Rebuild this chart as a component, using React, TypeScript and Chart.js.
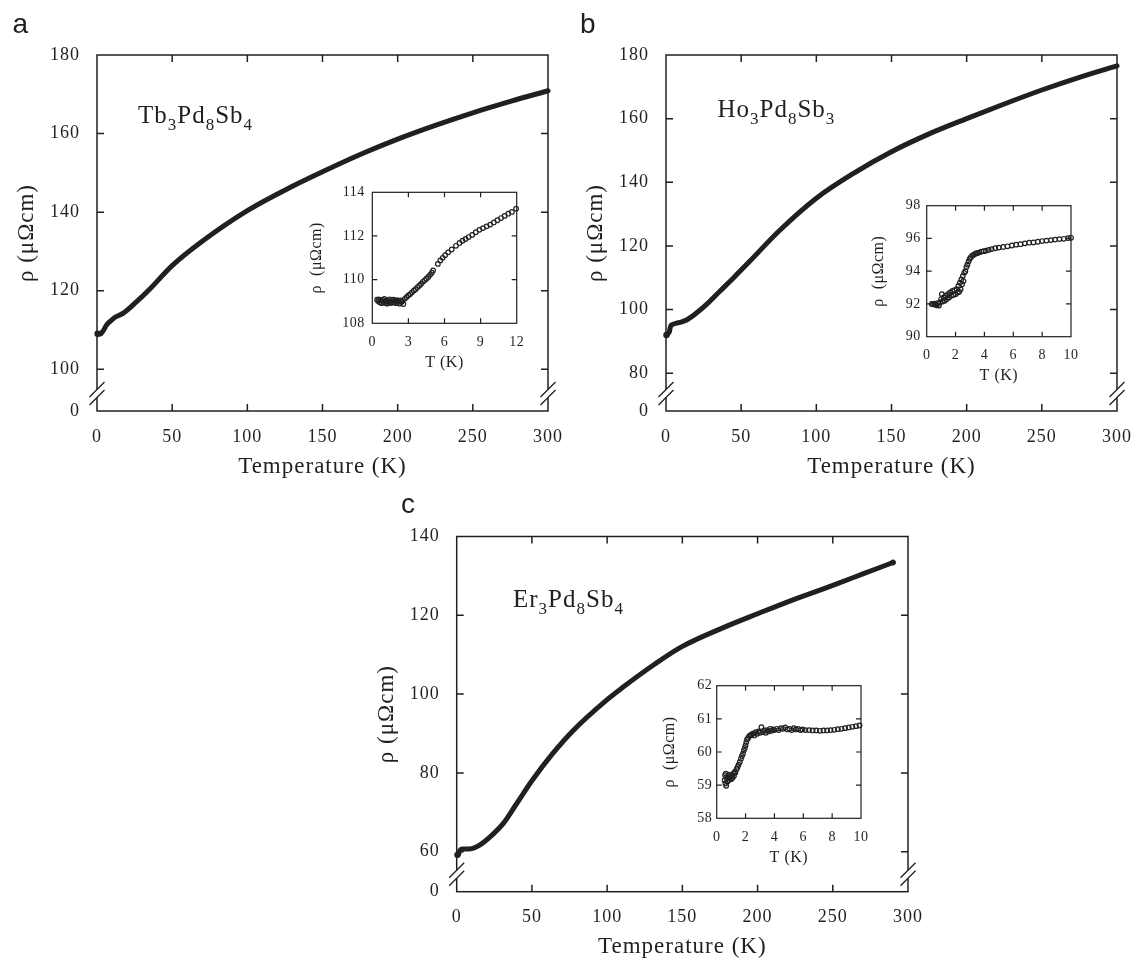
import React, { useEffect, useRef } from 'react';
import { Chart, registerables } from 'chart.js';

Chart.register(...registerables);

const PAGE_W = 1134;
const PAGE_H = 961;
const INK = '#231f20';
const SERIF = '"Liberation Serif", "Times New Roman", Times, serif';
const SANS = '"Liberation Sans", Arial, Helvetica, sans-serif';

// ---------------- data: main panels ----------------
const tempA = [0.4, 1.5, 2.5, 3.5, 4.5, 5.5, 6.5, 8, 10, 12, 17.5, 26, 35, 50, 70, 100, 130, 150, 177, 200, 225, 250, 275, 300];
const rhoA = [109.05, 109.0, 109.0, 109.5, 110.0, 110.75, 111.35, 111.95, 112.6, 113.25, 114.3, 117.1, 120.4, 126.4, 132.6, 140.4, 146.6, 150.3, 155.0, 158.6, 162.1, 165.3, 168.2, 170.9];

const tempB = [0.3, 0.9, 1.5, 2.2, 2.8, 3.3, 4, 5, 7, 10, 14, 20, 27, 36, 45, 56, 75, 100, 125, 150, 175, 200, 225, 250, 275, 300];
const rhoB = [92.0, 92.0, 92.5, 92.9, 94.3, 95.0, 95.2, 95.45, 95.72, 96.05, 96.8, 98.8, 101.6, 105.8, 110.0, 115.3, 124.6, 135.0, 142.9, 149.6, 155.2, 160.0, 164.6, 169.0, 173.0, 176.6];

const tempC = [0.5, 1, 1.5, 2, 2.5, 4, 6, 10, 15, 22, 31, 40, 50, 64, 77, 100, 110, 132, 150, 178, 200, 224, 250, 270, 290];
const rhoC = [59.2, 59.25, 59.6, 60.2, 60.52, 60.66, 60.66, 60.8, 61.6, 63.7, 67.2, 72.3, 78.0, 85.0, 90.6, 98.6, 101.6, 107.7, 112.1, 117.0, 120.4, 124.0, 127.6, 130.5, 133.4];

// ---------------- data: insets ----------------
const insetTempA = [0.40, 0.48, 0.55, 0.62, 0.70, 0.78, 0.85, 0.92, 1.00, 1.08, 1.15, 1.22, 1.30, 1.38, 1.45, 1.52, 1.60, 1.68, 1.75, 1.82, 1.90, 1.98, 2.05, 2.12, 2.20, 2.28, 2.35, 2.42, 2.50, 2.58, 2.70, 2.85, 3.00, 3.15, 3.30, 3.45, 3.60, 3.75, 3.90, 4.05, 4.20, 4.35, 4.50, 4.65, 4.80, 4.95, 5.05, 5.45, 5.65, 5.85, 6.05, 6.30, 6.60, 6.95, 7.25, 7.50, 7.75, 8.00, 8.30, 8.60, 8.90, 9.20, 9.50, 9.80, 10.10, 10.40, 10.70, 11.00, 11.30, 11.60, 11.95];
const insetRhoA = [109.08, 109.02, 109.10, 108.96, 109.05, 108.92, 109.07, 108.98, 109.12, 108.94, 109.03, 108.90, 109.06, 108.97, 109.10, 108.93, 109.02, 108.95, 109.08, 108.96, 109.04, 108.92, 109.06, 108.97, 109.03, 108.90, 109.05, 108.98, 109.02, 108.88, 109.12, 109.20, 109.28, 109.34, 109.42, 109.50, 109.56, 109.65, 109.72, 109.80, 109.90, 109.97, 110.04, 110.12, 110.22, 110.32, 110.42, 110.72, 110.88, 111.00, 111.12, 111.25, 111.38, 111.55, 111.68, 111.78, 111.86, 111.95, 112.05, 112.17, 112.28, 112.36, 112.44, 112.52, 112.62, 112.72, 112.82, 112.92, 113.02, 113.10, 113.25];

const insetTempB = [0.35, 0.45, 0.55, 0.62, 0.70, 0.78, 0.85, 0.92, 1.00, 1.05, 1.10, 1.18, 1.25, 1.32, 1.40, 1.48, 1.55, 1.62, 1.70, 1.78, 1.85, 1.92, 2.00, 2.08, 2.15, 2.20, 2.25, 2.30, 2.35, 2.40, 2.45, 2.50, 2.55, 2.60, 2.68, 2.75, 2.82, 2.90, 2.98, 3.05, 3.15, 3.25, 3.35, 3.45, 3.55, 3.65, 3.80, 3.95, 4.10, 4.30, 4.50, 4.75, 5.00, 5.30, 5.60, 5.90, 6.20, 6.50, 6.80, 7.10, 7.40, 7.70, 8.00, 8.30, 8.60, 8.90, 9.20, 9.50, 9.80, 10.00];
const insetRhoB = [92.00, 91.98, 92.02, 91.95, 91.92, 92.05, 91.90, 92.10, 92.30, 92.60, 92.15, 92.40, 92.20, 92.50, 92.30, 92.60, 92.40, 92.70, 92.50, 92.80, 92.55, 92.85, 92.60, 92.90, 92.70, 93.10, 92.75, 93.30, 92.90, 93.50, 93.20, 93.70, 93.40, 93.90, 94.00, 94.25, 94.40, 94.60, 94.75, 94.85, 94.95, 95.00, 95.05, 95.10, 95.12, 95.15, 95.20, 95.22, 95.25, 95.30, 95.35, 95.40, 95.44, 95.48, 95.52, 95.57, 95.62, 95.65, 95.70, 95.74, 95.76, 95.80, 95.84, 95.87, 95.90, 95.93, 95.96, 95.98, 96.02, 96.04];

const insetTempC = [0.55, 0.58, 0.60, 0.63, 0.66, 0.70, 0.74, 0.78, 0.82, 0.86, 0.90, 0.95, 1.00, 1.05, 1.10, 1.15, 1.20, 1.25, 1.30, 1.38, 1.45, 1.52, 1.60, 1.68, 1.75, 1.82, 1.88, 1.95, 2.00, 2.05, 2.10, 2.18, 2.25, 2.32, 2.40, 2.50, 2.60, 2.70, 2.80, 2.90, 3.00, 3.10, 3.20, 3.30, 3.40, 3.50, 3.60, 3.70, 3.80, 3.90, 4.00, 4.15, 4.30, 4.45, 4.60, 4.75, 4.90, 5.05, 5.20, 5.35, 5.50, 5.65, 5.80, 5.95, 6.15, 6.40, 6.65, 6.90, 7.15, 7.40, 7.65, 7.90, 8.15, 8.40, 8.65, 8.90, 9.15, 9.40, 9.65, 9.90];
const insetRhoC = [59.15, 59.30, 59.05, 59.35, 58.98, 59.20, 59.10, 59.28, 59.15, 59.32, 59.20, 59.25, 59.18, 59.30, 59.22, 59.35, 59.28, 59.40, 59.38, 59.48, 59.55, 59.62, 59.70, 59.80, 59.88, 59.95, 60.05, 60.12, 60.20, 60.30, 60.38, 60.42, 60.48, 60.50, 60.52, 60.55, 60.50, 60.60, 60.55, 60.62, 60.58, 60.75, 60.60, 60.65, 60.58, 60.66, 60.62, 60.70, 60.64, 60.68, 60.66, 60.70, 60.66, 60.72, 60.70, 60.74, 60.68, 60.70, 60.66, 60.72, 60.68, 60.70, 60.66, 60.68, 60.66, 60.66, 60.65, 60.65, 60.64, 60.65, 60.65, 60.66, 60.67, 60.69, 60.70, 60.72, 60.74, 60.76, 60.78, 60.80];

// ---------------- ticks / labels ----------------
const tempTicks = [0, 50, 100, 150, 200, 250, 300];
const rhoTicksA = [100, 120, 140, 160, 180];
const rhoTicksB = [80, 100, 120, 140, 160, 180];
const rhoTicksC = [60, 80, 100, 120, 140];
const rhoFootA = 89.4; // broken-axis foot, labelled "0"
const rhoFootB = 68.1;
const rhoFootC = 49.85;
const footLabel = '0';
const insetTTicksA = [0, 3, 6, 9, 12];
const insetTTicksBC = [0, 2, 4, 6, 8, 10];
const insetRhoTicksA = [108, 110, 112, 114];
const insetRhoTicksB = [90, 92, 94, 96, 98];
const insetRhoTicksC = [58, 59, 60, 61, 62];

const compoundA = 'Tb3Pd8Sb4';
const compoundB = 'Ho3Pd8Sb3';
const compoundC = 'Er3Pd8Sb4';
const panelLetters = ['a', 'b', 'c'];
const xTitleMain = 'Temperature (K)';
const xTitleInset = 'T (K)';
const yTitleMain = 'ρ (μΩcm)';
const yTitleInset = 'ρ  (μΩcm)';

// ---------------- helpers ----------------
type Area = { l: number; r: number; t: number; b: number };
type Spec = {
  type: 'line' | 'scatter';
  area: Area;
  xRange: [number, number];
  xTicks: number[];
  yRange: [number, number];
  yTicks: number[];
  yTickText: (v: number) => string;
  tickSize: number;
  titleSize: number;
  spacing: number;
  yAxisW: number;
  xAxisH: number;
  yTickPad: number;
  xTickGap: number;
  xTitleGap: number;
  yTitleGap: number;
  xTitle: string;
  yTitle: string;
  tickLen: number;
  frameW: number;
  broken: boolean;
  compound?: { text: string; x: number; y: number };
  letter?: { text: string; x: number; y: number };
  datasets: any[];
};

function pts(ts: number[], rs: number[]) {
  return ts.map((t, i) => ({ x: t, y: rs[i] }));
}

function curve(ts: number[], rs: number[]) {
  return {
    type: 'line',
    data: pts(ts, rs),
    borderColor: INK,
    backgroundColor: INK,
    borderWidth: 5,
    pointRadius: (c: any) => (c.dataIndex === 0 ? 3.2 : 0),
    pointBorderWidth: 0,
    pointHoverRadius: 0,
    cubicInterpolationMode: 'monotone',
    fill: false,
    clip: false,
    borderCapStyle: 'round',
    borderJoinStyle: 'round',
  };
}

function endMarker(ts: number[], rs: number[]) {
  const i = ts.length - 1;
  return {
    type: 'scatter',
    data: [{ x: ts[i], y: rs[i] }],
    showLine: false,
    pointRadius: 2.6,
    borderWidth: 1,
    borderColor: INK,
    backgroundColor: '#ffffff',
    clip: false,
  };
}

function markers(ts: number[], rs: number[]) {
  return {
    type: 'scatter',
    data: pts(ts, rs),
    showLine: false,
    pointRadius: 2.3,
    borderWidth: 1.2,
    borderColor: INK,
    backgroundColor: 'rgba(255,255,255,0)',
    pointHoverRadius: 0,
    clip: false,
  };
}

function drawCompound(ctx: CanvasRenderingContext2D, text: string, x: number, y: number) {
  const parts = text.match(/[A-Za-z]+|\d+/g) || [];
  let cx = x;
  ctx.fillStyle = INK;
  ctx.textBaseline = 'alphabetic';
  ctx.textAlign = 'left';
  for (const p of parts) {
    const sub = /^\d/.test(p);
    ctx.font = `${sub ? 17 : 25}px ${SERIF}`;
    ctx.fillText(p, cx, sub ? y + 7 : y);
    cx += ctx.measureText(p).width;
  }
}

function decor(s: Spec) {
  const sp = `${s.spacing}px`;
  return {
    id: 'decor',
    beforeLayout(chart: any) {
      chart.ctx.letterSpacing = sp;
    },
    beforeDraw(chart: any) {
      chart.ctx.letterSpacing = sp;
    },
    beforeDatasetsDraw(chart: any) {
      const { ctx, chartArea: a, scales } = chart;
      const x = scales.x;
      const y = scales.y;
      ctx.save();
      ctx.strokeStyle = INK;
      ctx.lineWidth = s.frameW;
      ctx.strokeRect(a.left, a.top, a.right - a.left, a.bottom - a.top);
      ctx.beginPath();
      for (const v of s.xTicks) {
        const px = x.getPixelForValue(v);
        if (px <= a.left + 1 || px >= a.right - 1) continue;
        ctx.moveTo(px, a.bottom);
        ctx.lineTo(px, a.bottom - s.tickLen);
        ctx.moveTo(px, a.top);
        ctx.lineTo(px, a.top + s.tickLen);
      }
      for (const v of s.yTicks) {
        const py = y.getPixelForValue(v);
        if (py <= a.top + 1 || py >= a.bottom - 1) continue;
        ctx.moveTo(a.left, py);
        ctx.lineTo(a.left + s.tickLen, py);
        ctx.moveTo(a.right, py);
        ctx.lineTo(a.right - s.tickLen, py);
      }
      ctx.stroke();
      ctx.restore();
    },
    afterDatasetsDraw(chart: any) {
      if (!s.broken) return;
      const { ctx, chartArea: a } = chart;
      const yb = a.bottom - 17.5;
      const g = 4;
      const d = 7.5;
      ctx.save();
      ctx.strokeStyle = INK;
      ctx.lineWidth = 1.3;
      for (const ax of [a.left, a.right]) {
        ctx.fillStyle = '#ffffff';
        ctx.fillRect(ax - 2, yb - g, 4, 2 * g);
        ctx.beginPath();
        ctx.moveTo(ax - d, yb - g + d);
        ctx.lineTo(ax + d, yb - g - d);
        ctx.moveTo(ax - d, yb + g + d);
        ctx.lineTo(ax + d, yb + g - d);
        ctx.stroke();
      }
      ctx.restore();
    },
    afterDraw(chart: any) {
      const { ctx } = chart;
      ctx.save();
      ctx.letterSpacing = sp;
      if (s.compound) drawCompound(ctx, s.compound.text, s.compound.x, s.compound.y);
      if (s.letter) {
        ctx.letterSpacing = '0px';
        ctx.font = `28px ${SANS}`;
        ctx.fillStyle = INK;
        ctx.textAlign = 'left';
        ctx.textBaseline = 'alphabetic';
        ctx.fillText(s.letter.text, s.letter.x, s.letter.y);
      }
      ctx.restore();
    },
  };
}

function buildConfig(s: Spec): any {
  const xAxisH = Math.min(s.xAxisH, PAGE_H - s.area.b);
  const tickLH = s.tickSize * 1.2;
  const titleLH = s.titleSize * 1.2;
  const tickFont = { family: SERIF, size: s.tickSize, lineHeight: 1.2 };
  const titleFont = { family: SERIF, size: s.titleSize, lineHeight: 1.2 };
  return {
    type: s.type,
    data: { datasets: s.datasets },
    options: {
      responsive: false,
      animation: false,
      devicePixelRatio: 1,
      events: [],
      layout: {
        padding: {
          left: s.area.l - s.yAxisW,
          right: PAGE_W - s.area.r,
          top: s.area.t,
          bottom: PAGE_H - s.area.b - xAxisH,
        },
      },
      plugins: { legend: { display: false }, tooltip: { enabled: false }, title: { display: false } },
      scales: {
        x: {
          type: 'linear',
          position: 'bottom',
          min: s.xRange[0],
          max: s.xRange[1],
          afterBuildTicks: (sc: any) => {
            sc.ticks = s.xTicks.map((v) => ({ value: v }));
          },
          afterFit: (sc: any) => {
            sc.height = xAxisH;
            sc.paddingLeft = 0;
            sc.paddingRight = 0;
            sc.paddingTop = 0;
            sc.paddingBottom = 0;
          },
          grid: { display: false, drawTicks: false },
          border: { display: false },
          ticks: {
            autoSkip: false,
            maxRotation: 0,
            minRotation: 0,
            padding: s.xTickGap - tickLH / 2,
            font: tickFont,
            color: INK,
            callback: (v: number) => String(v),
          },
          title: {
            display: true,
            text: s.xTitle,
            font: titleFont,
            color: INK,
            padding: { top: 0, bottom: Math.max(0, xAxisH - s.xTitleGap - titleLH / 2) },
          },
        },
        y: {
          type: 'linear',
          position: 'left',
          min: s.yRange[0],
          max: s.yRange[1],
          afterBuildTicks: (sc: any) => {
            sc.ticks = s.yTicks.map((v) => ({ value: v }));
          },
          afterFit: (sc: any) => {
            sc.width = s.yAxisW;
            sc.paddingLeft = 0;
            sc.paddingRight = 0;
            sc.paddingTop = 0;
            sc.paddingBottom = 0;
          },
          grid: { display: false, drawTicks: false },
          border: { display: false },
          ticks: {
            autoSkip: false,
            padding: s.yTickPad,
            font: tickFont,
            color: INK,
            callback: (v: number) => s.yTickText(v),
          },
          title: {
            display: true,
            text: s.yTitle,
            font: titleFont,
            color: INK,
            padding: { top: Math.max(0, s.yAxisW - s.yTitleGap - titleLH / 2), bottom: 0 },
          },
        },
      },
    },
    plugins: [decor(s)],
  };
}

const mainBase = {
  type: 'line' as const,
  xRange: [0, 300] as [number, number],
  xTicks: tempTicks,
  tickSize: 18,
  titleSize: 23,
  spacing: 1,
  yAxisW: 100,
  xAxisH: 70,
  yTickPad: 17,
  xTickGap: 26,
  xTitleGap: 56,
  yTitleGap: 70,
  xTitle: xTitleMain,
  yTitle: yTitleMain,
  tickLen: 7,
  frameW: 1.5,
  broken: true,
};

const insetBase = {
  type: 'scatter' as const,
  tickSize: 14,
  titleSize: 16,
  spacing: 0.5,
  yAxisW: 70,
  xAxisH: 60,
  xTickGap: 18.6,
  xTitleGap: 39.5,
  xTitle: xTitleInset,
  yTitle: yTitleInset,
  tickLen: 5,
  frameW: 1.2,
  broken: false,
};

const footText = (foot: number) => (v: number) => (Math.abs(v - foot) < 1e-6 ? footLabel : String(v));

const SPECS: Spec[] = [
  {
    ...mainBase,
    area: { l: 97, r: 548, t: 55, b: 411 },
    yRange: [rhoFootA, 180],
    yTicks: [rhoFootA, ...rhoTicksA],
    yTickText: footText(rhoFootA),
    compound: { text: compoundA, x: 138, y: 123 },
    letter: { text: panelLetters[0], x: 12.5, y: 33 },
    datasets: [curve(tempA, rhoA)],
  },
  {
    ...mainBase,
    area: { l: 666, r: 1117, t: 55, b: 411 },
    yRange: [rhoFootB, 180],
    yTicks: [rhoFootB, ...rhoTicksB],
    yTickText: footText(rhoFootB),
    compound: { text: compoundB, x: 717.5, y: 117 },
    letter: { text: panelLetters[1], x: 580, y: 33 },
    datasets: [curve(tempB, rhoB)],
  },
  {
    ...mainBase,
    area: { l: 456.7, r: 908, t: 536.5, b: 891.7 },
    yRange: [rhoFootC, 140],
    yTicks: [rhoFootC, ...rhoTicksC],
    yTickText: footText(rhoFootC),
    compound: { text: compoundC, x: 513, y: 606.7 },
    letter: { text: panelLetters[2], x: 401, y: 513 },
    datasets: [curve(tempC, rhoC), endMarker(tempC, rhoC)],
  },
  {
    ...insetBase,
    area: { l: 372.3, r: 516.7, t: 192.3, b: 323.3 },
    xRange: [0, 12],
    xTicks: insetTTicksA,
    yRange: [108, 114],
    yTicks: insetRhoTicksA,
    yTickText: (v: number) => String(v),
    yTickPad: 7.5,
    yTitleGap: 56,
    datasets: [markers(insetTempA, insetRhoA)],
  },
  {
    ...insetBase,
    area: { l: 926.7, r: 1071, t: 205.7, b: 336.7 },
    xRange: [0, 10],
    xTicks: insetTTicksBC,
    yRange: [90, 98],
    yTicks: insetRhoTicksB,
    yTickText: (v: number) => String(v),
    yTickPad: 6,
    yTitleGap: 48,
    datasets: [markers(insetTempB, insetRhoB)],
  },
  {
    ...insetBase,
    area: { l: 716.7, r: 861, t: 685.7, b: 818.3 },
    xRange: [0, 10],
    xTicks: insetTTicksBC,
    yRange: [58, 62],
    yTicks: insetRhoTicksC,
    yTickText: (v: number) => String(v),
    yTickPad: 4.5,
    yTitleGap: 47,
    datasets: [markers(insetTempC, insetRhoC)],
  },
];

function ChartLayer({ spec }: { spec: Spec }) {
  const ref = useRef<HTMLCanvasElement>(null);
  useEffect(() => {
    const chart = new Chart(ref.current as HTMLCanvasElement, buildConfig(spec));
    return () => chart.destroy();
  }, [spec]);
  return (
    <canvas
      ref={ref}
      width={PAGE_W}
      height={PAGE_H}
      style={{ position: 'absolute', left: 0, top: 0, width: PAGE_W, height: PAGE_H, pointerEvents: 'none' }}
    />
  );
}

export default function App() {
  return (
    <div style={{ position: 'absolute', left: 0, top: 0, width: PAGE_W, height: PAGE_H, background: '#ffffff', overflow: 'hidden' }}>
      {SPECS.map((s, i) => (
        <ChartLayer key={i} spec={s} />
      ))}
    </div>
  );
}
